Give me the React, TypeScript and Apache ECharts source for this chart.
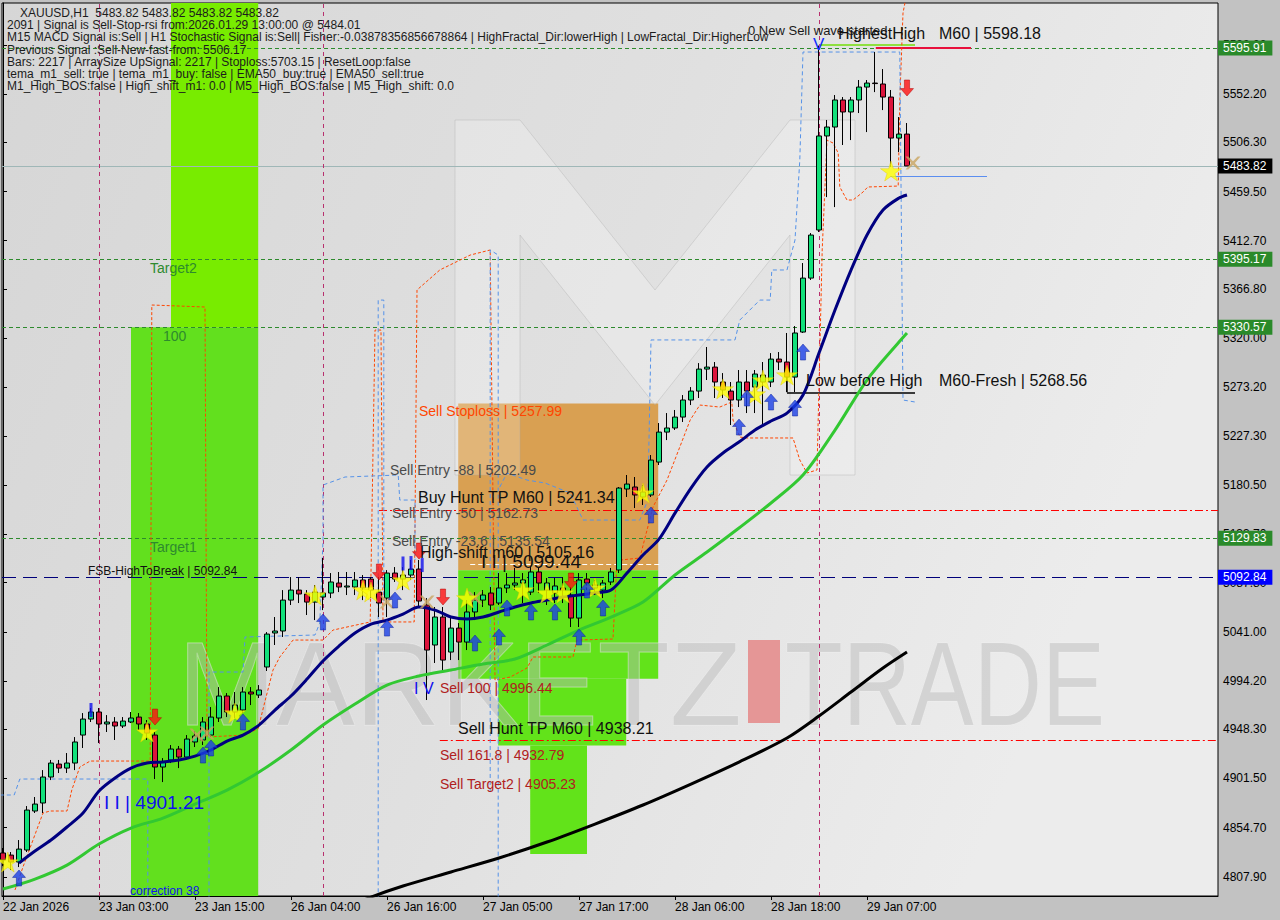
import React, { useEffect, useRef } from "react";
import * as echarts from "echarts";

const FONT = '"Liberation Sans", Arial, sans-serif';

// ---------- axes ----------
const timeTickIndex = [0, 12, 24, 36, 48, 60, 72, 84, 96, 108];
const timeTickLabels = [
  "22 Jan 2026", "23 Jan 03:00", "23 Jan 15:00", "26 Jan 04:00", "26 Jan 16:00",
  "27 Jan 05:00", "27 Jan 17:00", "28 Jan 06:00", "28 Jan 18:00", "29 Jan 07:00",
];
const priceTicks = [
  5599.0, 5552.2, 5506.3, 5459.5, 5412.7, 5366.8, 5320.0, 5273.2, 5227.3, 5180.5,
  5133.7, 5087.8, 5041.0, 4994.2, 4948.3, 4901.5, 4854.7, 4807.9,
];
const Y_MIN = 4789.8;
const Y_MAX = 5638.7;
const X_MIN = -0.125;
const X_MAX = 151.875;

// ---------- candles (XAUUSD H1) ----------
const opens = [
  4830.7, 4828.7, 4822.1, 4833.5, 4870.6, 4878.2, 4902.9, 4915.2, 4911.4, 4916.2,
  4942.8, 4958.0, 4964.7, 4953.3, 4955.2, 4951.4, 4955.2, 4959.9, 4953.3, 4942.8,
  4912.4, 4919.1, 4929.5, 4921.9, 4936.2, 4938.1, 4942.8, 4959.0, 4979.9, 4964.7,
  4966.6, 4983.7, 4980.8, 5007.5, 5039.8, 5041.7, 5071.1, 5080.6, 5076.9, 5069.2,
  5074.0, 5077.8, 5087.3, 5083.5, 5083.5, 5090.2, 5091.1, 5078.7, 5073.0, 5096.8,
  5091.1, 5094.9, 5100.6, 5066.4, 5028.4, 5055.0, 5021.7, 5044.5, 5031.2, 5059.8,
  5071.1, 5077.8, 5068.3, 5082.6, 5085.4, 5087.3, 5078.7, 5097.8, 5080.6, 5077.8,
  5082.6, 5075.9, 5054.0, 5091.1, 5082.6, 5080.6, 5088.3, 5099.7, 5176.7, 5178.6,
  5169.1, 5171.0, 5202.3, 5230.8, 5234.7, 5245.1, 5261.3, 5269.8, 5290.7, 5292.6,
  5278.4, 5269.8, 5261.3, 5278.4, 5273.6, 5278.4, 5278.4, 5300.2, 5297.4, 5283.1,
  5325.9, 5377.2, 5422.9, 5512.3, 5520.8, 5546.5, 5535.1, 5546.5, 5558.8, 5562.6,
  5561.7, 5549.3, 5510.3, 5514.1,
];
const closes = [
  4824.0, 4822.1, 4834.4, 4871.5, 4877.2, 4902.9, 4916.2, 4911.4, 4916.2, 4936.2,
  4958.0, 4964.7, 4953.3, 4955.2, 4951.4, 4956.1, 4959.0, 4953.3, 4944.7, 4912.4,
  4917.1, 4929.5, 4921.9, 4939.0, 4941.9, 4955.2, 4959.9, 4979.9, 4964.7, 4971.3,
  4983.7, 4981.8, 4985.6, 5038.8, 5041.7, 5071.1, 5080.6, 5076.9, 5069.2, 5078.7,
  5077.8, 5088.3, 5083.5, 5084.5, 5090.2, 5082.6, 5080.6, 5068.3, 5096.8, 5091.1,
  5094.9, 5100.6, 5070.2, 5023.6, 5055.0, 5014.1, 5044.5, 5031.2, 5059.8, 5071.1,
  5075.9, 5066.4, 5082.6, 5085.4, 5087.3, 5090.2, 5097.8, 5087.3, 5087.3, 5084.5,
  5080.6, 5054.0, 5090.2, 5087.3, 5085.4, 5087.3, 5097.8, 5177.6, 5181.4, 5171.0,
  5173.8, 5204.2, 5230.8, 5234.7, 5245.1, 5261.3, 5269.8, 5290.7, 5292.6, 5278.4,
  5270.8, 5261.3, 5278.4, 5269.8, 5286.0, 5285.0, 5300.2, 5297.4, 5283.1, 5325.0,
  5377.2, 5418.1, 5512.3, 5520.8, 5546.5, 5535.1, 5546.5, 5558.8, 5562.6, 5562.1,
  5549.3, 5510.3, 5514.1, 5483.82,
];
const lows = [
  4818.3, 4814.5, 4817.3, 4831.6, 4868.7, 4868.7, 4900.0, 4906.7, 4906.7, 4909.5,
  4930.5, 4955.2, 4935.2, 4945.7, 4938.1, 4949.5, 4954.2, 4947.6, 4938.1, 4901.0,
  4898.1, 4916.2, 4911.4, 4919.1, 4931.4, 4933.3, 4940.9, 4955.2, 4959.9, 4959.0,
  4963.7, 4971.3, 4978.0, 5003.7, 5028.4, 5036.0, 5066.4, 5068.3, 5056.9, 5052.1,
  5061.6, 5073.0, 5078.7, 5075.9, 5075.9, 5071.1, 5073.0, 5055.0, 5055.0, 5088.3,
  5080.6, 5090.2, 5065.4, 4976.1, 5011.3, 5002.7, 5014.1, 5014.1, 5023.6, 5052.1,
  5064.5, 5061.6, 5066.4, 5077.8, 5080.6, 5068.3, 5075.9, 5077.8, 5066.4, 5068.3,
  5068.3, 5045.5, 5045.5, 5080.6, 5075.9, 5073.0, 5085.4, 5096.8, 5169.1, 5158.6,
  5161.5, 5169.1, 5199.5, 5223.2, 5232.8, 5240.4, 5256.5, 5263.2, 5280.3, 5263.2,
  5263.2, 5237.5, 5254.6, 5248.9, 5248.9, 5235.6, 5273.6, 5289.8, 5268.9, 5268.9,
  5325.0, 5375.4, 5421.0, 5454.2, 5444.7, 5503.7, 5508.4, 5534.1, 5516.0, 5554.0,
  5536.9, 5482.8, 5497.0, 5483.8,
];
const highs = [
  4835.4, 4831.6, 4843.0, 4875.3, 4883.9, 4909.5, 4919.1, 4919.1, 4925.7, 4940.9,
  4963.7, 4968.5, 4968.5, 4961.8, 4959.9, 4959.9, 4964.7, 4963.7, 4957.1, 4945.7,
  4920.9, 4933.3, 4932.4, 4942.8, 4946.6, 4959.9, 4969.4, 4988.4, 4982.7, 4983.7,
  4988.4, 4988.4, 4990.3, 5040.7, 5055.0, 5080.6, 5093.0, 5093.0, 5080.6, 5085.4,
  5111.1, 5096.8, 5097.8, 5097.8, 5097.8, 5094.9, 5093.0, 5093.0, 5099.6, 5102.5,
  5102.5, 5109.2, 5109.2, 5073.0, 5064.5, 5064.5, 5055.0, 5049.3, 5071.1, 5078.7,
  5080.6, 5083.5, 5096.8, 5096.8, 5101.6, 5096.8, 5102.5, 5102.5, 5092.1, 5092.1,
  5093.0, 5083.5, 5096.8, 5096.8, 5090.2, 5090.2, 5101.6, 5178.6, 5190.0, 5188.1,
  5180.5, 5209.0, 5239.4, 5248.9, 5251.8, 5266.0, 5273.6, 5296.4, 5311.7, 5297.4,
  5286.9, 5278.4, 5289.8, 5289.8, 5289.8, 5297.4, 5305.9, 5306.9, 5325.0, 5331.6,
  5391.5, 5420.0, 5598.2, 5527.5, 5551.2, 5549.3, 5549.3, 5565.5, 5565.5, 5592.1,
  5575.9, 5556.0, 5530.3, 5524.6,
];

// ---------- moving averages ----------
const navyIdx = [2, 4, 6, 8, 10, 12, 14, 16, 18, 20, 22, 24, 26, 28, 30, 32, 34, 36, 38, 40, 42, 44, 46, 48, 50, 52, 54, 56, 58, 60, 62, 64, 66, 68, 70, 72, 74, 76, 78, 80, 82, 84, 86, 88, 90, 92, 94, 96, 98, 100, 102, 104, 106, 108, 110, 112, 113];
const navyVal = [4821.1, 4832.5, 4843.0, 4855.4, 4868.7, 4889.6, 4902.0, 4911.4, 4916.2, 4917.1, 4919.1, 4922.8, 4928.6, 4937.1, 4942.8, 4952.3, 4966.6, 4979.9, 4996.0, 5013.2, 5027.4, 5039.8, 5048.3, 5052.1, 5057.8, 5064.5, 5061.6, 5055.0, 5053.1, 5055.0, 5059.8, 5064.5, 5068.3, 5071.1, 5074.0, 5075.9, 5077.8, 5080.6, 5096.8, 5113.9, 5129.1, 5153.8, 5177.6, 5197.6, 5210.9, 5221.3, 5232.7, 5241.3, 5248.9, 5266.0, 5305.9, 5346.8, 5384.8, 5418.1, 5441.9, 5453.3, 5456.2];
const greenIdx = [0, 4, 8, 12, 16, 20, 24, 28, 32, 36, 40, 44, 48, 52, 56, 60, 64, 68, 72, 76, 80, 84, 88, 92, 96, 100, 104, 108, 112, 113];
const greenVal = [4796.4, 4805.9, 4819.2, 4839.2, 4854.4, 4863.9, 4877.2, 4890.5, 4907.6, 4928.6, 4952.3, 4972.3, 4990.3, 4998.9, 5004.6, 5010.3, 5015.1, 5028.4, 5042.6, 5055.0, 5069.2, 5095.0, 5116.8, 5139.6, 5163.4, 5190.0, 5232.7, 5280.3, 5316.4, 5325.0];
const blackIdx = [44, 46, 50, 56, 62, 68, 74, 80, 86, 92, 98, 102, 106, 110, 113];
const blackVal = [4782.2, 4788.8, 4799.3, 4812.6, 4825.9, 4841.1, 4858.2, 4876.3, 4896.2, 4917.1, 4940.0, 4960.9, 4983.7, 5006.5, 5021.7];

// ---------- trailing channel lines ----------
const orangeTrail = [
  [1.5, 4795.5], [2.5, 4817.4], [5, 4868.7], [5.9, 4870.6], [8, 4870.6], [8.6, 4890.6], [9.6, 4912.4],
  [10.9, 4918.1], [18.4, 4918.1], [18.6, 5351.6], [25.25, 5349.7], [25.5, 4941.0], [30.25, 4942.8],
  [31.9, 4949.0], [32.75, 4975.0], [33.75, 5004.6], [34.6, 5017.0], [36.25, 5033.1], [40, 5033.1],
  [41.25, 5042.6], [45.9, 5050.3], [46.5, 5327.8], [47.25, 5327.8], [47.5, 5050.3], [51.4, 5050.3],
  [51.75, 5365.9], [54.6, 5384.9], [58.4, 5399.1], [60.9, 5403.9], [61.5, 4995.1], [63.4, 4997.9],
  [65.5, 5006.5], [66.25, 5017.0], [71.25, 5017.0], [71.75, 5033.1], [76.25, 5034.1], [76.75, 5108.8],
  [79.6, 5111.1], [81.25, 5159.6], [83, 5185.2], [84.6, 5216.6], [85.9, 5242.3], [87.1, 5256.5],
  [89.6, 5254.6], [91.1, 5259.4], [91.25, 5242.3], [92.1, 5226.1], [93, 5225.2], [98.75, 5225.2],
  [99.6, 5204.3], [100.5, 5191.9], [101.75, 5194.8], [102.4, 5403.9], [103, 5508.4], [103.75, 5505.6],
  [104.4, 5496.1], [104.6, 5463.8], [105.5, 5451.4], [106.25, 5451.4], [107.5, 5459.0], [108.1, 5463.8],
  [111.9, 5464.7], [112.1, 5546.5], [112.5, 5629.2], [112.9, 5645.0],
];
const blueTrail = [
  [-0.4, 4885.8], [1.4, 4885.8], [2.1, 4901.0], [18.1, 4901.0], [18.1, 4780.0], null,
  [25.75, 4780.0], [25.75, 5002.7], [30, 5002.7], [30.25, 5036.0], [39, 5037.9], [39.6, 5049.3],
  [40, 5128.2], [40, 5180.5], [42.75, 5188.1], [49.4, 5190.0], [49.6, 5166.2], [51.5, 5166.2], [51.5, 5109.2], null,
  [46.9, 4780.0], [46.9, 5356.3], [47.6, 5356.3], [47.6, 5070.0], null,
  [60.9, 4888.7], [60.9, 5403.9], [61.9, 5399.1], [61.9, 4780.0], null,
  [62.1, 5178.6], [63, 5191.9], [65.5, 5185.2], [67.75, 5182.4], [70.9, 5172.9], [72.5, 5147.2],
  [79.6, 5147.2], [80.6, 5166.2], [81, 5318.4], [91.5, 5318.4], [92.1, 5337.3], [94.6, 5356.3],
  [95.9, 5356.3], [96.1, 5384.9], [98, 5384.9], [99, 5413.4], [99.6, 5489.4], [100, 5592.1],
  [112.1, 5592.1], [112.5, 5261.3], [114, 5259.4],
];

// ---------- signal markers ----------
const buyArrows = [
  [2, 4806.9], [25, 4923.8], [26, 4930.5], [30, 4955.2], [40, 5050.3], [48, 5044.5], [49, 5071.2],
  [59, 5030.3], [62, 5036.0], [63, 5063.6], [66, 5059.8], [69, 5059.8], [72, 5036.0], [73, 5080.7],
  [75, 5063.6], [81, 5152.0], [92, 5235.6], [93, 5263.2], [96, 5259.4], [99, 5253.7], [100, 5306.9],
];
const sellArrows = [[19, 4959.9], [47, 5097.8], [52, 5117.7], [55, 5074.0], [71, 5089.2], [113, 5557.9]];
const stars = [
  [0.6, 4822.1], [18, 4945.7], [29, 4963.7], [39, 5075.9], [45, 5080.7], [46, 5078.8], [50, 5090.2],
  [58, 5073.1], [65, 5080.7], [68, 5077.8], [70, 5077.8], [74, 5082.6], [80, 5172.9], [90, 5271.8],
  [94, 5267.0], [95, 5280.3], [98, 5285.0], [111, 5479.0],
];
const crosses = [[24.25, 4942.8], [25.5, 4944.7], [48, 5069.3], [53, 5069.3], [59, 5073.1], [113.75, 5486.6]];
const waveBars = [[11, 4966.6], [50, 5105.9], [51, 5106.3], [52.4, 5104.4]];

// ---------- zones ----------
const zoneX0 = [16, 21, 56.9, 56.9, 61.9, 65.9];
const zoneX1 = [31.9, 31.9, 81.9, 81.9, 77.9, 73];
const zoneTop = [5330.57, Y_MAX, 5257.99, 5099.44, 4996.44, 4932.79];
const zoneBottom = [Y_MIN, 5330.57, 5099.44, 4996.44, 4932.79, 4829.8];
const zoneColors = ["#62e01e", "#78ec00", "#d9a052", "#62e31a", "#62e31a", "#62e31a"];

// ---------- horizontal levels ----------
const greenLevels = [5595.91, 5395.17, 5330.57, 5129.83];
const fsbLevel = 5092.84;
const lastPrice = 5483.82;
const daySeparators = [12, 40, 102];

const infoLines = [
  "XAUUSD,H1  5483.82 5483.82 5483.82 5483.82",
  "2091 | Signal is Sell-Stop-rsi from:2026.01.29 13:00:00 @ 5484.01",
  "M15 MACD Signal is:Sell | H1 Stochastic Signal is:Sell| Fisher:-0.03878356856678864 | HighFractal_Dir:lowerHigh | LowFractal_Dir:HigherLow",
  "Previous Signal :Sell-New-fast-from: 5506.17",
  "Bars: 2217 | ArraySize UpSignal: 2217 | Stoploss:5703.15 | ResetLoop:false",
  "tema_m1_sell: true | tema_m1_buy: false | EMA50_buy:true | EMA50_sell:true",
  "M1_High_BOS:false | High_shift_m1: 0.0 | M5_High_BOS:false | M5_High_shift: 0.0",
];

const STAR = "path://M50,0 L61,35 L98,35 L68,57 L79,91 L50,70 L21,91 L32,57 L2,35 L39,35 Z";
const UP = "path://M6,0 L12,6.5 L8.4,6.5 L8.4,14 L3.6,14 L3.6,6.5 L0,6.5 Z";
const DOWN = "path://M3.6,0 L8.4,0 L8.4,7.5 L12,7.5 L6,14 L0,7.5 L3.6,7.5 Z";
const CROSS = "path://M0,0 L3,0 L8,5 L13,0 L16,0 L10,7 L16,14 L13,14 L8,9 L3,14 L0,14 L6,7 Z";

function txt(text: string, x: number, y: number, size: number, color: string, extra: any = {}) {
  return {
    type: "text",
    x,
    y,
    z: 100,
    silent: true,
    style: { text, fill: color, fontSize: size, fontFamily: FONT, verticalAlign: "middle", ...extra },
  };
}

function buildOption() {
  const candleData = opens.map((o, i) => [i, o, closes[i], lows[i], highs[i]]);
  const pair = (xs: number[], ys: number[]) => xs.map((x, i) => [x, ys[i]]);

  const zones = zoneX0.map((x0, k) => [
    { coord: [x0, zoneTop[k]], itemStyle: { color: zoneColors[k], opacity: 1 } },
    { coord: [zoneX1[k], zoneBottom[k]] },
  ]);

  const axisLab = (bg: string, text: string) => ({
    show: true,
    position: "end",
    distance: 0,
    formatter: text,
    backgroundColor: bg,
    color: "#ffffff",
    padding: [2, 6, 1, 5],
    fontSize: 12,
    fontFamily: FONT,
  });

  const seg = (x0: number, x1: number, y0: number, y1: number, lineStyle: any) => [
    { coord: [x0, y0], lineStyle },
    { coord: [x1, y1], lineStyle },
  ];

  const markLines: any[] = [
    ...greenLevels.map((v) => ({
      yAxis: v,
      lineStyle: { color: "#2d8a2d", type: [4, 3], width: 1 },
      label: axisLab("#2a8a2a", v.toFixed(2)),
    })),
    {
      yAxis: fsbLevel,
      lineStyle: { color: "#00007a", type: [14, 7], width: 1 },
      label: axisLab("#0000ff", fsbLevel.toFixed(2)),
    },
    {
      yAxis: lastPrice,
      lineStyle: { color: "#9fb7b7", type: "solid", width: 1 },
      label: axisLab("#000000", lastPrice.toFixed(2)),
    },
    ...daySeparators.map((x) => ({
      xAxis: x,
      lineStyle: { color: "#b8306e", type: [4, 4], width: 1 },
      label: { show: false },
    })),
    seg(47, X_MAX, 5156.7, 5156.7, { color: "#ff0000", type: [8, 3, 2, 3], width: 1 }),
    seg(54.6, X_MAX, 4938.21, 4938.21, { color: "#ff0000", type: [8, 3, 2, 3], width: 1 }),
    seg(58.4, 82.1, 5105.16, 5105.16, { color: "#ffffff", type: [5, 3], width: 1.2 }),
    seg(102.1, 114, 5598.8, 5598.8, { color: "#8fe040", type: "solid", width: 2 }),
    seg(109.1, 121, 5596.0, 5596.0, { color: "#e8103c", type: "solid", width: 2 }),
    seg(110.9, 123, 5474.2, 5474.2, { color: "#5b8ef0", type: "solid", width: 1.2 }),
    seg(98, 98, 5283.1, 5268.56, { color: "#000000", type: "solid", width: 1.5 }),
    seg(98, 114, 5268.56, 5268.56, { color: "#000000", type: "solid", width: 1.5 }),
  ];

  const graphics: any[] = [
    // watermark logo "M"
    {
      type: "polygon",
      z: 3,
      silent: true,
      shape: {
        points: [[455, 120], [520, 120], [655, 290], [790, 120], [855, 120], [855, 475], [790, 475], [790, 235], [655, 405], [520, 235], [520, 475], [455, 475]],
      },
      style: { fill: "rgba(255,255,255,0.22)", stroke: "rgba(170,170,170,0.35)", lineWidth: 1 },
    },
    {
      type: "text", x: 178, y: 684, z: 3, silent: true,
      style: { text: "MARKETZ", fontSize: 118, fontFamily: FONT, fill: "rgba(185,185,185,0.45)", stroke: "rgba(245,245,245,0.5)", lineWidth: 1, verticalAlign: "middle" },
    },
    { type: "rect", z: 3, silent: true, shape: { x: 748, y: 640, width: 32, height: 83 }, style: { fill: "rgba(228,96,96,0.6)" } },
    {
      type: "text", x: 785, y: 684, z: 3, silent: true, scaleX: 0.8,
      style: { text: "TRADE", fontSize: 118, fontFamily: FONT, fill: "rgba(185,185,185,0.45)", stroke: "rgba(245,245,245,0.5)", lineWidth: 1, verticalAlign: "middle" },
    },
    // info block
    ...infoLines.map((t, k) => txt(t, k === 0 ? 20 : 7, 13 + k * 12.2, 12, "#1c1c1c")),
    // annotations
    txt("0 New Sell wave started", 748, 30, 13, "#1a1a1a"),
    txt("V", 813, 44, 17, "#1030ff"),
    txt("HighestHigh", 838, 33, 16, "#111111"),
    txt("M60 | 5598.18", 939, 33, 16, "#111111"),
    txt("Low before High", 806, 380, 16, "#111111"),
    txt("M60-Fresh | 5268.56", 939, 380, 16, "#111111"),
    txt("Sell Stoploss | 5257.99", 419, 411, 14, "#ff4500"),
    txt("Sell Entry -88 | 5202.49", 390, 470, 14, "#4a4a4a"),
    txt("Buy Hunt TP M60 | 5241.34", 418, 497, 16, "#111111"),
    txt("Sell Entry -50 | 5162.73", 392, 513, 14, "#4a4a4a"),
    txt("Sell Entry -23.6 | 5135.54", 392, 541, 14, "#4a4a4a"),
    txt("High-shift m60 | 5105.16", 420, 552, 16, "#111111"),
    txt("I I | 5099.44", 481, 561, 19, "#111111"),
    txt("FSB-HighToBreak | 5092.84", 88, 571, 12, "#111111"),
    txt("Target2", 150, 268, 14, "#2e8a2e"),
    txt("100", 163, 336, 14, "#2e8a2e"),
    txt("Target1", 150, 547, 14, "#2e8a2e"),
    txt("I I | 4901.21", 104, 802, 19, "#1010ee"),
    txt("correction 38", 130, 891, 12, "#1010ee"),
    txt("I V", 414, 688, 16, "#1010ee"),
    txt("Sell 100 | 4996.44", 440, 688, 14, "#b02020"),
    txt("Sell Hunt TP M60 | 4938.21", 458, 728, 16, "#111111"),
    txt("Sell 161.8 | 4932.79", 440, 755, 14, "#b02020"),
    txt("Sell Target2 | 4905.23", 440, 784, 14, "#b02020"),
  ];

  return {
    animation: false,
    backgroundColor: "#c2c2c2",
    grid: {
      left: 2,
      right: 62,
      top: 3,
      bottom: 24,
      show: true,
      borderColor: "#000000",
      borderWidth: 1,
      backgroundColor: new echarts.graphic.LinearGradient(0, 0, 1, 0.3, [
        { offset: 0, color: "#d6d6d6" },
        { offset: 0.55, color: "#e0e0e0" },
        { offset: 1, color: "#ececec" },
      ]),
    },
    xAxis: {
      type: "value",
      min: X_MIN,
      max: X_MAX,
      splitLine: { show: false },
      axisLine: { show: true, lineStyle: { color: "#000" } },
      axisTick: { show: true, length: 4, customValues: timeTickIndex, lineStyle: { color: "#000" } },
      axisLabel: {
        show: true,
        customValues: timeTickIndex,
        formatter: (v: number) => timeTickLabels[timeTickIndex.indexOf(Math.round(v))] || "",
        align: "left",
        margin: 5,
        color: "#000",
        fontSize: 12,
        fontFamily: FONT,
      },
    },
    yAxis: {
      type: "value",
      position: "right",
      min: Y_MIN,
      max: Y_MAX,
      scale: true,
      splitLine: { show: false },
      axisLine: { show: true, lineStyle: { color: "#000" } },
      axisTick: { show: true, length: 4, customValues: priceTicks, lineStyle: { color: "#000" } },
      axisLabel: {
        show: true,
        customValues: priceTicks,
        formatter: (v: number) => v.toFixed(2),
        margin: 5,
        color: "#000",
        fontSize: 12,
        fontFamily: FONT,
      },
    },
    graphic: graphics,
    series: [
      {
        name: "zones",
        type: "line",
        z: 1,
        data: [],
        markArea: { silent: true, data: zones },
      },
      {
        name: "levels",
        type: "line",
        z: 4,
        data: [],
        markLine: { silent: true, symbol: ["none", "none"], label: { show: false }, data: markLines },
      },
      {
        name: "orangeTrail",
        type: "line",
        z: 5,
        data: orangeTrail,
        showSymbol: false,
        lineStyle: { color: "#ff4500", width: 1, type: [3, 2] },
      },
      {
        name: "blueTrail",
        type: "line",
        z: 5,
        data: blueTrail.map((p) => (p ? p : [null, null])),
        connectNulls: false,
        showSymbol: false,
        lineStyle: { color: "#5592e8", width: 1, type: [4, 3] },
      },
      {
        name: "XAUUSD",
        type: "candlestick",
        z: 6,
        barWidth: 5,
        encode: { x: 0, y: [1, 2, 3, 4] },
        data: candleData,
        itemStyle: {
          color: "#12e07a",
          color0: "#dc143c",
          borderColor: "#000000",
          borderColor0: "#000000",
          borderWidth: 1,
        },
      },
      {
        name: "ema200",
        type: "line",
        z: 7,
        smooth: 0.3,
        showSymbol: false,
        data: pair(blackIdx, blackVal),
        lineStyle: { color: "#000000", width: 3 },
      },
      {
        name: "ema50",
        type: "line",
        z: 7,
        smooth: 0.3,
        showSymbol: false,
        data: pair(greenIdx, greenVal),
        lineStyle: { color: "#32c832", width: 3 },
      },
      {
        name: "ema20",
        type: "line",
        z: 7,
        smooth: 0.3,
        showSymbol: false,
        data: pair(navyIdx, navyVal),
        lineStyle: { color: "#000080", width: 3 },
      },
      {
        name: "crosses",
        type: "scatter",
        z: 8,
        symbol: CROSS,
        symbolSize: [15, 13],
        data: crosses,
        itemStyle: { color: "#c9a562" },
      },
      {
        name: "stars",
        type: "scatter",
        z: 8,
        symbol: STAR,
        symbolSize: [21, 20],
        data: stars,
        itemStyle: { color: "#ffff00", borderColor: "#e0c800", borderWidth: 0.5 },
      },
      {
        name: "buy",
        type: "scatter",
        z: 9,
        symbol: UP,
        symbolSize: [13, 16],
        data: buyArrows,
        itemStyle: { color: "#1a3fe6", borderColor: "#0a1f9a", borderWidth: 0.6 },
      },
      {
        name: "sell",
        type: "scatter",
        z: 9,
        symbol: DOWN,
        symbolSize: [13, 16],
        data: sellArrows,
        itemStyle: { color: "#ff1010", borderColor: "#b00000", borderWidth: 0.6 },
      },
      {
        name: "wave",
        type: "scatter",
        z: 9,
        symbol: "rect",
        symbolSize: [3, 14],
        data: waveBars,
        itemStyle: { color: "#1010ee" },
      },
    ],
  };
}

export default function App() {
  const ref = useRef<HTMLDivElement>(null);
  useEffect(() => {
    if (!ref.current) return;
    const chart = echarts.init(ref.current, undefined, { renderer: "svg" });
    chart.setOption(buildOption() as any);
    return () => chart.dispose();
  }, []);
  return (
    <div
      ref={ref}
      style={{ position: "fixed", left: 0, top: 0, width: 1280, height: 920, background: "#c2c2c2" }}
    />
  );
}
